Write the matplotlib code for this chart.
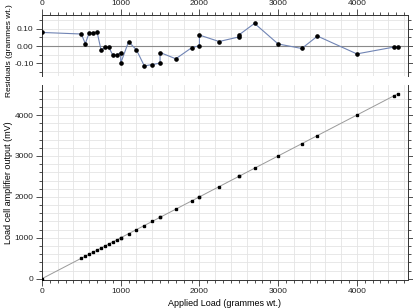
import matplotlib
matplotlib.use("Agg")
import matplotlib.pyplot as plt
from matplotlib.ticker import MultipleLocator
import numpy as np

plt.rcParams['font.family'] = ['Liberation Sans', 'DejaVu Sans']

# Data
applied_load = [0, 500, 550, 600, 650, 700, 750, 800, 850, 900, 950, 1000, 1000,
                1100, 1200, 1300, 1400, 1500, 1500, 1700, 1900, 2000, 2000, 2250,
                2500, 2500, 2700, 3000, 3300, 3500, 4000, 4470, 4525]
residuals = [0.078, 0.069, 0.014, 0.076, 0.076, 0.080, -0.022, -0.008, -0.008, -0.053,
             -0.053, -0.037, -0.098, 0.025, -0.022, -0.114, -0.106, -0.098, -0.037,
             -0.073, -0.010, 0.002, 0.063, 0.026, 0.052, 0.063, 0.130, 0.012, -0.014,
             0.057, -0.045, -0.006, -0.006]
output_mv = [0, 500, 550, 600, 650, 700, 750, 800, 850, 900, 950, 1000, 1000,
             1100, 1200, 1300, 1400, 1500, 1500, 1700, 1900, 2000, 2000, 2250,
             2500, 2500, 2700, 3000, 3300, 3500, 4000, 4470, 4525]
fit_x = [0, 4525]
fit_y = [0, 4525]

W, H = 414, 308
fig = plt.figure(figsize=(W / 100, H / 100), dpi=100)

L, R = 42 / W, 408 / W
ax_r = fig.add_axes([L, 1 - 75.7 / H, R - L, (75.7 - 15) / H])
ax_m = fig.add_axes([L, 1 - 279.5 / H, R - L, (279.5 - 85) / H])

grid_kw = dict(color='#e4e4e4', linewidth=0.6)
spine_col = '#333333'

for ax in (ax_r, ax_m):
    ax.set_xlim(0, 4650)
    ax.xaxis.set_major_locator(MultipleLocator(1000))
    ax.xaxis.set_minor_locator(MultipleLocator(100))
    for s in ax.spines.values():
        s.set_color(spine_col)
        s.set_linewidth(0.7)
    ax.tick_params(which='both', direction='out', colors=spine_col, labelsize=6,
                   width=0.6, labelcolor='#222222')
    ax.tick_params(which='major', length=4, pad=2)
    ax.tick_params(which='minor', length=2)
    for xv in np.arange(200, 4650, 200):
        ax.axvline(xv, zorder=0, **grid_kw)

# Residuals panel
ax_r.set_ylim(-0.17, 0.178)
ax_r.yaxis.set_major_locator(MultipleLocator(0.10))
ax_r.yaxis.set_minor_locator(MultipleLocator(0.05))
for yv in np.arange(-0.15, 0.18, 0.05):
    ax_r.axhline(yv, zorder=0, **grid_kw)
ax_r.axhline(0, color='#8a8a8a', linewidth=0.8, zorder=1)
ax_r.plot(applied_load, residuals, color='#7084b4', linewidth=0.8,
          marker='o', markersize=2.3, markerfacecolor='black',
          markeredgecolor='black', zorder=3)
ax_r.xaxis.tick_top()
ax_r.xaxis.set_label_position('top')
ax_r.spines['bottom'].set_visible(False)
ax_r.yaxis.set_major_formatter(plt.FuncFormatter(lambda v, p: f"{v:.2f}"))
ax_r.set_ylabel('Residuals (grammes wt.)', fontsize=6.0)

# Main panel
ax_m.set_ylim(-20, 4735)
ax_m.yaxis.set_major_locator(MultipleLocator(1000))
ax_m.yaxis.set_minor_locator(MultipleLocator(200))
for yv in np.arange(200, 4735, 200):
    ax_m.axhline(yv, zorder=0, **grid_kw)
ax_m.plot(fit_x, fit_y, color='#9a9a9a', linewidth=0.7, zorder=2)
ax_m.plot(applied_load, output_mv, linestyle='none', marker='s', markersize=1.6,
          color='black', zorder=3)
ax_m.spines['top'].set_visible(False)
ax_m.set_ylabel('Load cell amplifier output (mV)', fontsize=6.5)
ax_m.set_xlabel('Applied Load (grammes wt.)', fontsize=6.5, labelpad=3)

for ax in (ax_r, ax_m):
    ax.yaxis.set_ticks_position('both')
    ax.tick_params(axis='y', which='both', right=True)
ax_r.yaxis.set_label_coords(-0.08, 0.42)
ax_m.yaxis.set_label_coords(-0.08, 0.5)

fig.savefig('out.png', dpi=100)
